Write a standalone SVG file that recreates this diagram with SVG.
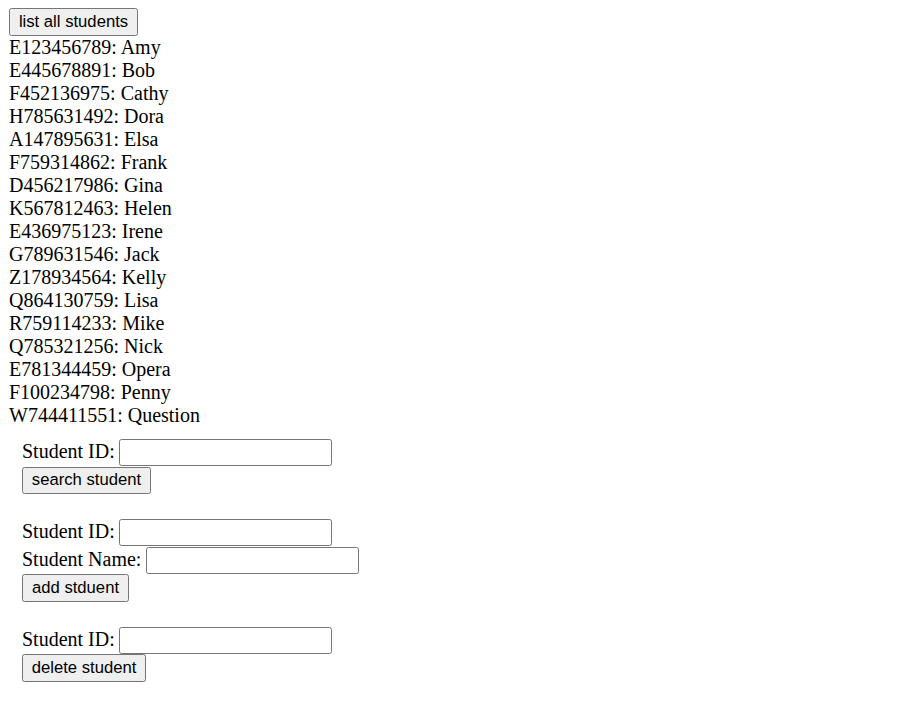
<svg xmlns="http://www.w3.org/2000/svg" width="920" height="701" viewBox="0 0 920 701">
<style>
.bg{fill:#ffffff}
.btn{fill:#efefef;stroke:#767676;stroke-width:1}
.inp{fill:#ffffff;stroke:#767676;stroke-width:1}
.bt{font-family:"Liberation Sans",Arial,sans-serif;font-size:16.67px;fill:#000;text-anchor:middle}
.t{font-family:"Liberation Serif","Times New Roman",serif;font-size:20px;fill:#000}
</style>
<rect class="bg" x="0" y="0" width="920" height="701"/>
<g id="list-button">
<rect class="btn" x="9.5" y="8.5" width="128" height="27" rx="2"/>
<text class="bt" x="73.5" y="27">list all students</text>
</g>
<g id="student-list">
<text class="t" x="9" y="54">E123456789: Amy</text>
<text class="t" x="9" y="77">E445678891: Bob</text>
<text class="t" x="9" y="100">F452136975: Cathy</text>
<text class="t" x="9" y="123">H785631492: Dora</text>
<text class="t" x="9" y="146">A147895631: Elsa</text>
<text class="t" x="9" y="169">F759314862: Frank</text>
<text class="t" x="9" y="192">D456217986: Gina</text>
<text class="t" x="9" y="215">K567812463: Helen</text>
<text class="t" x="9" y="238">E436975123: Irene</text>
<text class="t" x="9" y="261">G789631546: Jack</text>
<text class="t" x="9" y="284">Z178934564: Kelly</text>
<text class="t" x="9" y="307">Q864130759: Lisa</text>
<text class="t" x="9" y="330">R759114233: Mike</text>
<text class="t" x="9" y="353">Q785321256: Nick</text>
<text class="t" x="9" y="376">E781344459: Opera</text>
<text class="t" x="9" y="399">F100234798: Penny</text>
<text class="t" x="9" y="422">W744411551: Question</text>
</g>
<g id="search-form">
<text class="t" x="22" y="458">Student ID:</text>
<rect class="inp" x="119.5" y="439.5" width="212" height="26" rx="2"/>
<rect class="btn" x="22.5" y="467.5" width="128" height="26" rx="2"/>
<text class="bt" x="86.5" y="484.5">search student</text>
</g>
<g id="add-form">
<text class="t" x="22" y="538">Student ID:</text>
<rect class="inp" x="119.5" y="519.5" width="212" height="26" rx="2"/>
<text class="t" x="22" y="566">Student Name:</text>
<rect class="inp" x="146.5" y="547.5" width="212" height="26" rx="2"/>
<rect class="btn" x="22.5" y="574.5" width="106" height="27" rx="2"/>
<text class="bt" x="75.5" y="592.5">add stduent</text>
</g>
<g id="delete-form">
<text class="t" x="22" y="646">Student ID:</text>
<rect class="inp" x="119.5" y="627.5" width="212" height="26" rx="2"/>
<rect class="btn" x="22.5" y="654.5" width="123" height="27" rx="2"/>
<text class="bt" x="84" y="672.5">delete student</text>
</g>
<g id="connectors"/>
</svg>
